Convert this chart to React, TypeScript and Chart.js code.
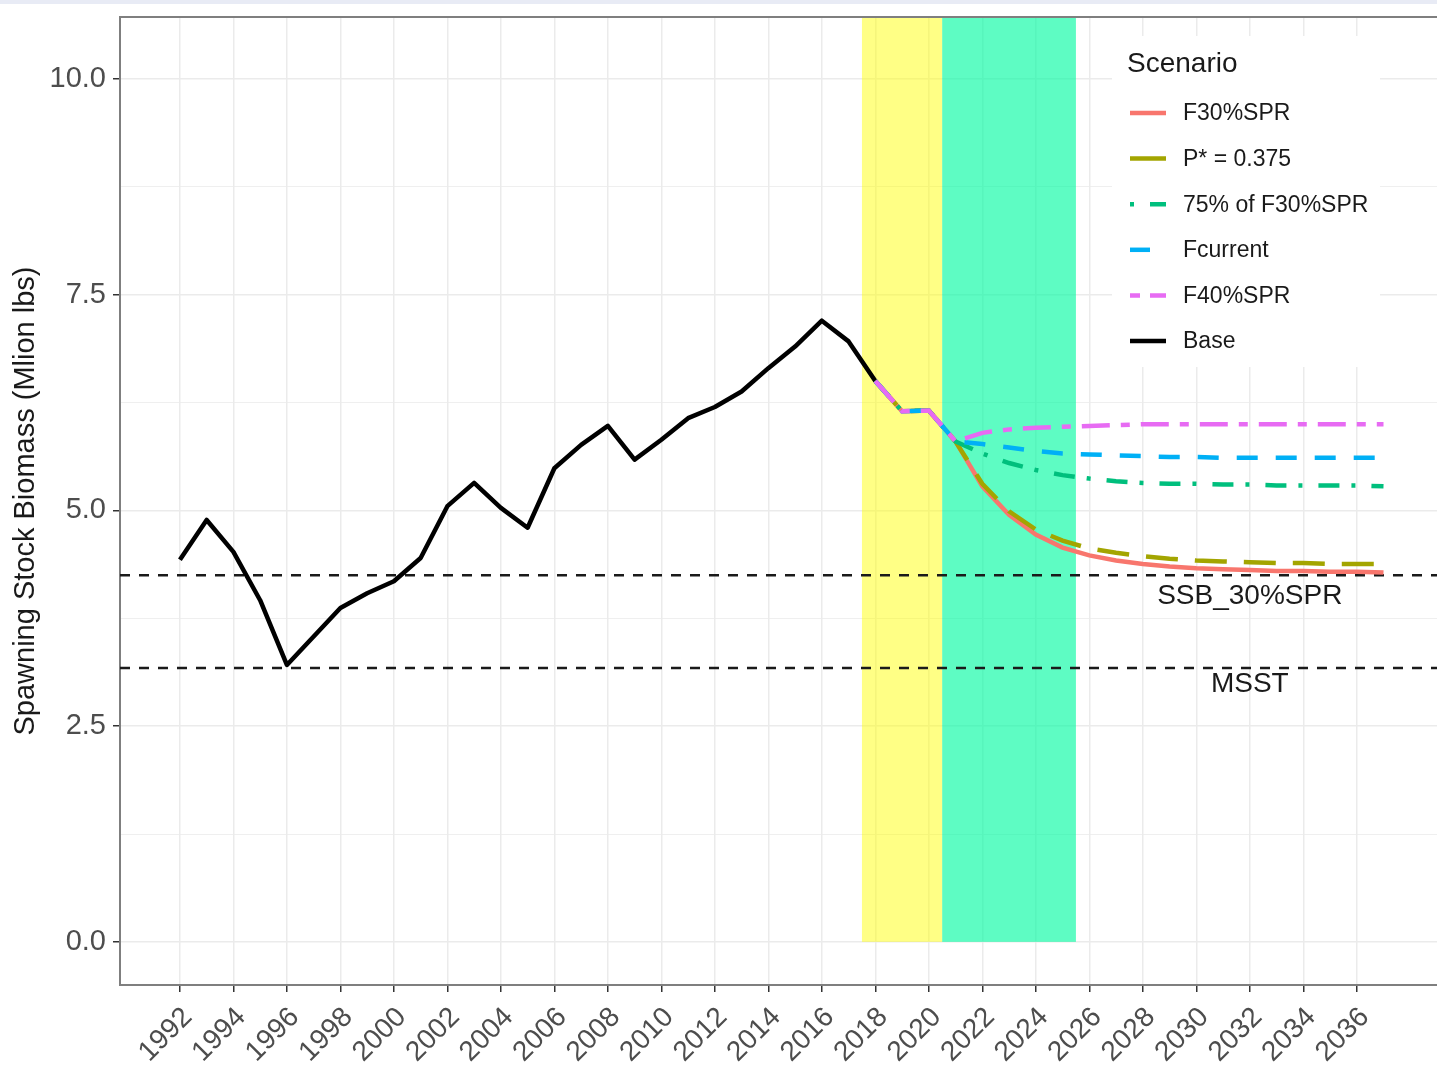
import React, { useEffect, useRef } from 'react';
import { Chart, registerables } from 'chart.js';

Chart.register(...registerables);

// ---------- data ----------
const baseYears = [1992, 1993, 1994, 1995, 1996, 1997, 1998, 1999, 2000, 2001, 2002, 2003, 2004, 2005, 2006, 2007, 2008, 2009, 2010, 2011, 2012, 2013, 2014, 2015, 2016, 2017, 2018];
const baseSSB = [4.43, 4.89, 4.52, 3.96, 3.21, 3.54, 3.87, 4.04, 4.18, 4.45, 5.05, 5.32, 5.03, 4.80, 5.49, 5.76, 5.98, 5.59, 5.82, 6.07, 6.20, 6.38, 6.65, 6.90, 7.20, 6.96, 6.50];

const projYears = [2018, 2019, 2020, 2021, 2022, 2023, 2024, 2025, 2026, 2027, 2028, 2029, 2030, 2031, 2032, 2033, 2034, 2035, 2036, 2037];
const f30SPR = [6.50, 6.15, 6.16, 5.80, 5.28, 4.95, 4.72, 4.57, 4.48, 4.42, 4.38, 4.35, 4.33, 4.32, 4.31, 4.30, 4.30, 4.29, 4.29, 4.28];
const pStar = [6.50, 6.15, 6.16, 5.80, 5.31, 4.99, 4.78, 4.65, 4.56, 4.51, 4.47, 4.44, 4.42, 4.41, 4.40, 4.39, 4.39, 4.38, 4.38, 4.38];
const f30x75 = [6.50, 6.15, 6.16, 5.80, 5.66, 5.55, 5.47, 5.41, 5.37, 5.34, 5.32, 5.31, 5.31, 5.30, 5.30, 5.29, 5.29, 5.29, 5.29, 5.28];
const fCurrent = [6.50, 6.15, 6.16, 5.80, 5.77, 5.73, 5.69, 5.66, 5.65, 5.64, 5.63, 5.62, 5.62, 5.61, 5.61, 5.61, 5.61, 5.61, 5.61, 5.61];
const f40SPR = [6.50, 6.15, 6.16, 5.80, 5.90, 5.94, 5.96, 5.97, 5.98, 5.99, 6.00, 6.00, 6.00, 6.00, 6.00, 6.00, 6.00, 6.00, 6.00, 6.00];

const scenarioNames = ['F30%SPR', 'P* = 0.375', '75% of F30%SPR', 'Fcurrent', 'F40%SPR', 'Base'];
const scenarioColors = ['#F8766D', '#A3A500', '#00BF7D', '#00B0F6', '#E76BF3', '#000000'];

const refValues = [4.25, 3.175];
const refLabels = ['SSB_30%SPR', 'MSST'];
const refLabelX = [2032, 2032];
const refLabelY = [4.0, 2.98];

const bandStart = [2017.5, 2020.5];
const bandEnd = [2020.5, 2025.5];
const bandColors = ['rgba(255,255,0,0.48)', 'rgba(0,250,160,0.63)'];

const xTicks = [1992, 1994, 1996, 1998, 2000, 2002, 2004, 2006, 2008, 2010, 2012, 2014, 2016, 2018, 2020, 2022, 2024, 2026, 2028, 2030, 2032, 2034, 2036];
const yTicks = [0, 1.25, 2.5, 3.75, 5, 6.25, 7.5, 8.75, 10];

const xMin = 1989.76;
const xMax = 2039.0;
const yMin = -0.5;
const yMax = 10.72;

// ---------- styles ----------
const FONT = '"Liberation Sans", Arial, sans-serif';
const lineDashes: number[][] = [[], [32, 17], [21, 12, 4, 16], [21, 18], [28, 11, 9, 11], []];
const legendDashes: number[][] = [[], [], [4, 16, 16, 100], [20, 100], [10, 10, 16, 100], []];

const toPts = (xs: number[], ys: number[]) => xs.map((x, i) => ({ x, y: ys[i] }));

const isMajorY = (v: number) => Math.abs(v / 2.5 - Math.round(v / 2.5)) < 1e-6;

const overlayPlugin = {
  id: 'overlay',
  beforeDatasetsDraw(chart: any) {
    const { ctx, chartArea, scales } = chart;
    const x = scales.x, y = scales.y;
    ctx.save();
    bandStart.forEach((s, i) => {
      const x0 = x.getPixelForValue(s);
      const x1 = x.getPixelForValue(bandEnd[i]);
      const y0 = y.getPixelForValue(0);
      ctx.fillStyle = bandColors[i];
      ctx.fillRect(x0, chartArea.top, x1 - x0, y0 - chartArea.top);
    });
    // legend background
    ctx.fillStyle = '#ffffff';
    ctx.fillRect(1112, 36, 268, 331);
    ctx.restore();
  },
  afterDatasetsDraw(chart: any) {
    const { ctx, scales } = chart;
    const x = scales.x, y = scales.y;
    ctx.save();
    ctx.fillStyle = '#1A1A1A';
    ctx.font = `28px ${FONT}`;
    ctx.textAlign = 'center';
    ctx.textBaseline = 'middle';
    refLabels.forEach((t, i) => {
      ctx.fillText(t, x.getPixelForValue(refLabelX[i]), y.getPixelForValue(refLabelY[i]));
    });
    ctx.restore();
  },
  afterDraw(chart: any) {
    const { ctx, chartArea } = chart;
    ctx.save();
    // top border
    ctx.strokeStyle = '#7F7F7F';
    ctx.lineWidth = 2;
    ctx.beginPath();
    ctx.moveTo(chartArea.left - 1, chartArea.top);
    ctx.lineTo(chartArea.right, chartArea.top);
    ctx.stroke();

    // legend
    ctx.fillStyle = '#1A1A1A';
    ctx.textAlign = 'left';
    ctx.textBaseline = 'middle';
    ctx.font = `28px ${FONT}`;
    ctx.fillText('Scenario', 1127, 64);
    ctx.font = `23px ${FONT}`;
    scenarioNames.forEach((name, i) => {
      const cy = 113 + i * 45.6;
      ctx.strokeStyle = scenarioColors[i];
      ctx.lineWidth = 4.5;
      ctx.setLineDash(legendDashes[i]);
      ctx.beginPath();
      ctx.moveTo(1130, cy);
      ctx.lineTo(1166, cy);
      ctx.stroke();
      ctx.setLineDash([]);
      ctx.fillText(name, 1183, cy + 1);
    });
    ctx.restore();
  },
};

export default function App() {
  const ref = useRef<HTMLCanvasElement | null>(null);

  useEffect(() => {
    if (!ref.current) return;
    const scenarioSeries = [f30SPR, pStar, f30x75, fCurrent, f40SPR];
    const drawOrder = [4, 3, 2, 1, 0];
    const datasets: any[] = [];
    refValues.forEach((v, i) => {
      datasets.push({
        label: refLabels[i],
        data: [{ x: xMin, y: v }, { x: xMax, y: v }],
        borderColor: '#1A1A1A',
        borderWidth: 2.6,
        borderDash: [10, 9],
        pointRadius: 0,
        order: 10 + i,
      });
    });
    datasets.push({
      label: 'Base',
      data: toPts(baseYears, baseSSB),
      borderColor: scenarioColors[5],
      borderWidth: 4.5,
      borderJoinStyle: 'round',
      pointRadius: 0,
      order: 5,
    });
    scenarioSeries.forEach((s, i) => {
      datasets.push({
        label: scenarioNames[i],
        data: toPts(projYears, s),
        borderColor: scenarioColors[i],
        borderWidth: 4.5,
        borderDash: lineDashes[i],
        pointRadius: 0,
        order: drawOrder[i],
      });
    });

    const chart = new Chart(ref.current, {
      type: 'line',
      data: { datasets },
      options: {
        animation: false,
        responsive: false,
        maintainAspectRatio: false,
        devicePixelRatio: 1,
        layout: { padding: { top: 17, left: 0, right: 0, bottom: 0 } },
        plugins: { legend: { display: false }, tooltip: { enabled: false } },
        elements: { line: { tension: 0 } },
        scales: {
          x: {
            type: 'linear',
            min: xMin,
            max: xMax,
            afterBuildTicks: (s: any) => { s.ticks = xTicks.map((v) => ({ value: v })); },
            afterFit: (s: any) => { s.height = 86; s.paddingLeft = 0; s.paddingRight = 0; },
            grid: { color: '#EBEBEB', lineWidth: 1.5, tickLength: 7, tickColor: '#333333' },
            border: { display: true, color: '#7F7F7F', width: 2 },
            ticks: {
              autoSkip: false,
              minRotation: 45,
              maxRotation: 45,
              padding: 9,
              labelOffset: 8,
              color: '#4D4D4D',
              font: { family: FONT, size: 28 },
              callback: (v: any) => String(v),
            },
          },
          y: {
            type: 'linear',
            min: yMin,
            max: yMax,
            afterBuildTicks: (s: any) => { s.ticks = yTicks.map((v) => ({ value: v })); },
            afterFit: (s: any) => { s.width = 120; s.paddingTop = 0; s.paddingBottom = 0; },
            grid: {
              color: '#EBEBEB',
              lineWidth: (c: any) => (c.tick && isMajorY(c.tick.value) ? 1.5 : 0.8),
              tickLength: 7,
              tickColor: (c: any) => (c.tick && isMajorY(c.tick.value) ? '#333333' : 'rgba(0,0,0,0)'),
            },
            border: { display: true, color: '#7F7F7F', width: 2 },
            ticks: {
              padding: 7,
              color: '#4D4D4D',
              font: { family: FONT, size: 29, lineHeight: 1 },
              callback: (v: any) => (isMajorY(Number(v)) ? Number(v).toFixed(1) : ''),
            },
            title: {
              display: true,
              text: 'Spawning Stock Biomass (Mlion lbs)',
              color: '#1A1A1A',
              font: { family: FONT, size: 29 },
              padding: { top: 9, bottom: 0 },
            },
          },
        },
      },
      plugins: [overlayPlugin],
    } as any);
    return () => chart.destroy();
  }, []);

  return (
    <div style={{ position: 'absolute', left: 0, top: 0, width: 1437, height: 1071, background: '#ffffff', overflow: 'hidden' }}>
      <canvas ref={ref} width={1437} height={1071} style={{ display: 'block', width: 1437, height: 1071 }} />
      <div style={{ position: 'absolute', left: 0, top: 0, width: 1437, height: 4, background: '#E8EBF5' }} />
    </div>
  );
}
